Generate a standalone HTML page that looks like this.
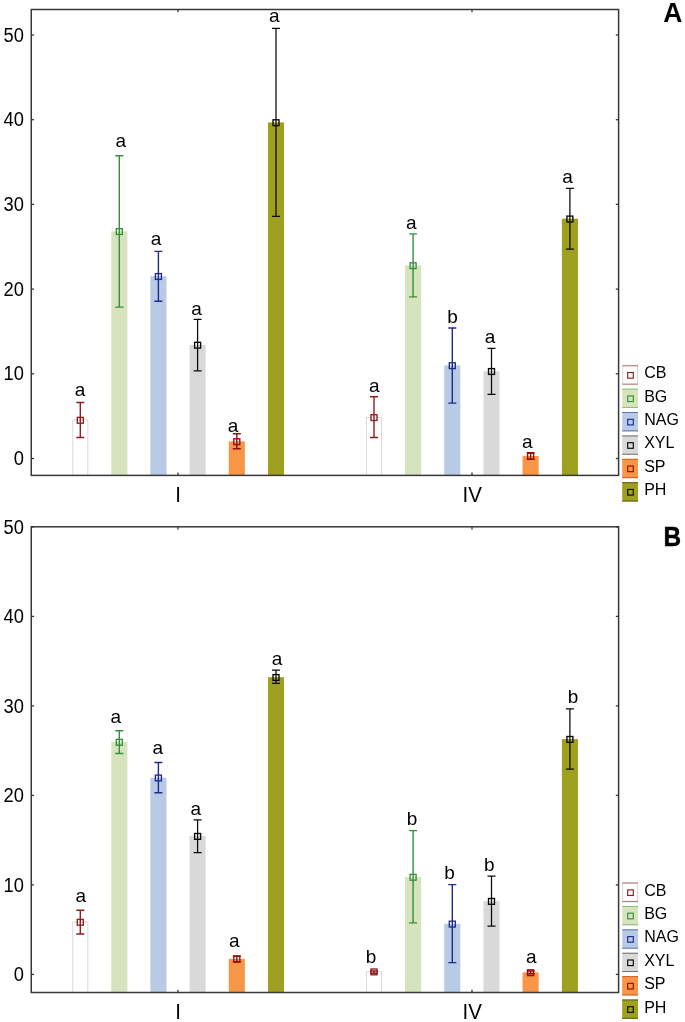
<!DOCTYPE html>
<html><head><meta charset="utf-8"><title>chart</title>
<style>
html,body{margin:0;padding:0;background:#fff;width:685px;height:1022px;overflow:hidden}
svg{display:block;filter:blur(0.3px)}
text{font-family:"Liberation Sans",sans-serif;fill:#000}
</style></head><body>
<svg width="685" height="1022" viewBox="0 0 685 1022">
<rect x="72.75" y="420.00" width="15.10" height="55.40" fill="#fff" stroke="#e0d6d6" stroke-width="1"/>
<rect x="111.25" y="231.30" width="16.10" height="244.10" fill="#d7e3bd"/>
<rect x="150.35" y="276.20" width="16.10" height="199.20" fill="#b7cbe5"/>
<rect x="189.55" y="344.90" width="16.10" height="130.50" fill="#d9d9d9"/>
<rect x="228.75" y="441.40" width="16.10" height="34.00" fill="#f79646"/>
<rect x="267.95" y="122.40" width="16.10" height="353.00" fill="#9f9f20"/>
<rect x="366.45" y="417.30" width="15.10" height="58.10" fill="#fff" stroke="#e0d6d6" stroke-width="1"/>
<rect x="405.05" y="265.40" width="16.10" height="210.00" fill="#d7e3bd"/>
<rect x="444.25" y="365.40" width="16.10" height="110.00" fill="#b7cbe5"/>
<rect x="483.45" y="371.20" width="16.10" height="104.20" fill="#d9d9d9"/>
<rect x="522.55" y="455.90" width="16.10" height="19.50" fill="#f79646"/>
<rect x="561.85" y="218.70" width="16.10" height="256.70" fill="#9f9f20"/>
<rect x="31.25" y="9.5" width="587.35" height="465.90" fill="none" stroke="#383838" stroke-width="1.5"/>
<line x1="31.25" y1="458.50" x2="34.05" y2="458.50" stroke="#383838" stroke-width="1.3"/>
<line x1="618.6" y1="458.50" x2="615.80" y2="458.50" stroke="#383838" stroke-width="1.3"/>
<text transform="translate(24.0 465.10) scale(0.965 1.07)" font-size="19" text-anchor="end">0</text>
<line x1="31.25" y1="373.80" x2="34.05" y2="373.80" stroke="#383838" stroke-width="1.3"/>
<line x1="618.6" y1="373.80" x2="615.80" y2="373.80" stroke="#383838" stroke-width="1.3"/>
<text transform="translate(24.0 380.40) scale(0.965 1.07)" font-size="19" text-anchor="end">10</text>
<line x1="31.25" y1="289.10" x2="34.05" y2="289.10" stroke="#383838" stroke-width="1.3"/>
<line x1="618.6" y1="289.10" x2="615.80" y2="289.10" stroke="#383838" stroke-width="1.3"/>
<text transform="translate(24.0 295.70) scale(0.965 1.07)" font-size="19" text-anchor="end">20</text>
<line x1="31.25" y1="204.40" x2="34.05" y2="204.40" stroke="#383838" stroke-width="1.3"/>
<line x1="618.6" y1="204.40" x2="615.80" y2="204.40" stroke="#383838" stroke-width="1.3"/>
<text transform="translate(24.0 211.00) scale(0.965 1.07)" font-size="19" text-anchor="end">30</text>
<line x1="31.25" y1="119.70" x2="34.05" y2="119.70" stroke="#383838" stroke-width="1.3"/>
<line x1="618.6" y1="119.70" x2="615.80" y2="119.70" stroke="#383838" stroke-width="1.3"/>
<text transform="translate(24.0 126.30) scale(0.965 1.07)" font-size="19" text-anchor="end">40</text>
<line x1="31.25" y1="35.00" x2="34.05" y2="35.00" stroke="#383838" stroke-width="1.3"/>
<line x1="618.6" y1="35.00" x2="615.80" y2="35.00" stroke="#383838" stroke-width="1.3"/>
<text transform="translate(24.0 41.60) scale(0.965 1.07)" font-size="19" text-anchor="end">50</text>
<line x1="178.0" y1="475.4" x2="178.0" y2="472.60" stroke="#383838" stroke-width="1.3"/>
<line x1="178.0" y1="9.5" x2="178.0" y2="12.30" stroke="#383838" stroke-width="1.3"/>
<line x1="472.0" y1="475.4" x2="472.0" y2="472.60" stroke="#383838" stroke-width="1.3"/>
<line x1="472.0" y1="9.5" x2="472.0" y2="12.30" stroke="#383838" stroke-width="1.3"/>
<text transform="translate(178.1 501.70) scale(1 1.065)" font-size="20.5" text-anchor="middle">I</text>
<text transform="translate(472.2 501.70) scale(1 1.065)" font-size="20.5" text-anchor="middle">IV</text>
<path d="M80.30 402.50V437.50M76.30 402.50H84.30M76.30 437.50H84.30" stroke="#8f1d1d" stroke-width="1.4" fill="none"/>
<rect x="77.30" y="417.40" width="6.0" height="5.8" fill="none" stroke="#8f1d1d" stroke-width="1.35"/>
<text x="80.00" y="396.40" font-size="19" text-anchor="middle">a</text>
<path d="M119.30 155.70V307.10M115.30 155.70H123.30M115.30 307.10H123.30" stroke="#34903a" stroke-width="1.4" fill="none"/>
<rect x="116.30" y="228.70" width="6.0" height="5.8" fill="none" stroke="#34903a" stroke-width="1.35"/>
<text x="120.80" y="146.50" font-size="19" text-anchor="middle">a</text>
<path d="M158.40 251.40V301.20M154.40 251.40H162.40M154.40 301.20H162.40" stroke="#1f2a8f" stroke-width="1.4" fill="none"/>
<rect x="155.40" y="273.60" width="6.0" height="5.8" fill="none" stroke="#1f2a8f" stroke-width="1.35"/>
<text x="156.05" y="244.70" font-size="19" text-anchor="middle">a</text>
<path d="M197.60 319.40V370.80M193.60 319.40H201.60M193.60 370.80H201.60" stroke="#0a0a0a" stroke-width="1.25" fill="none"/>
<rect x="194.60" y="342.30" width="6.0" height="5.8" fill="none" stroke="#0a0a0a" stroke-width="1.35"/>
<text x="196.60" y="314.90" font-size="19" text-anchor="middle">a</text>
<path d="M236.80 433.80V448.80M232.80 433.80H240.80M232.80 448.80H240.80" stroke="#8f1010" stroke-width="1.4" fill="none"/>
<rect x="233.80" y="438.80" width="6.0" height="5.8" fill="none" stroke="#8f1010" stroke-width="1.35"/>
<text x="233.10" y="431.70" font-size="19" text-anchor="middle">a</text>
<path d="M276.00 28.40V216.40M272.00 28.40H280.00M272.00 216.40H280.00" stroke="#0a0a0a" stroke-width="1.25" fill="none"/>
<rect x="273.00" y="119.80" width="6.0" height="5.8" fill="none" stroke="#0a0a0a" stroke-width="1.35"/>
<text x="274.30" y="21.90" font-size="19" text-anchor="middle">a</text>
<path d="M374.00 396.70V437.50M370.00 396.70H378.00M370.00 437.50H378.00" stroke="#8f1d1d" stroke-width="1.4" fill="none"/>
<rect x="371.00" y="414.70" width="6.0" height="5.8" fill="none" stroke="#8f1d1d" stroke-width="1.35"/>
<text x="374.30" y="391.60" font-size="19" text-anchor="middle">a</text>
<path d="M413.10 233.90V296.90M409.10 233.90H417.10M409.10 296.90H417.10" stroke="#34903a" stroke-width="1.4" fill="none"/>
<rect x="410.10" y="262.80" width="6.0" height="5.8" fill="none" stroke="#34903a" stroke-width="1.35"/>
<text x="411.30" y="228.50" font-size="19" text-anchor="middle">a</text>
<path d="M452.30 328.00V403.10M448.30 328.00H456.30M448.30 403.10H456.30" stroke="#1f2a8f" stroke-width="1.4" fill="none"/>
<rect x="449.30" y="362.80" width="6.0" height="5.8" fill="none" stroke="#1f2a8f" stroke-width="1.35"/>
<text x="452.45" y="322.80" font-size="19" text-anchor="middle">b</text>
<path d="M491.50 348.30V394.40M487.50 348.30H495.50M487.50 394.40H495.50" stroke="#0a0a0a" stroke-width="1.25" fill="none"/>
<rect x="488.50" y="368.60" width="6.0" height="5.8" fill="none" stroke="#0a0a0a" stroke-width="1.35"/>
<text x="490.15" y="343.40" font-size="19" text-anchor="middle">a</text>
<path d="M530.60 452.60V459.40M526.60 452.60H534.60M526.60 459.40H534.60" stroke="#8f1010" stroke-width="1.4" fill="none"/>
<rect x="527.60" y="453.30" width="6.0" height="5.8" fill="none" stroke="#8f1010" stroke-width="1.35"/>
<text x="527.30" y="447.60" font-size="19" text-anchor="middle">a</text>
<path d="M569.90 188.40V249.20M565.90 188.40H573.90M565.90 249.20H573.90" stroke="#0a0a0a" stroke-width="1.25" fill="none"/>
<rect x="566.90" y="216.10" width="6.0" height="5.8" fill="none" stroke="#0a0a0a" stroke-width="1.35"/>
<text x="567.50" y="182.70" font-size="19" text-anchor="middle">a</text>
<rect x="622.2" y="365.30" width="15.8" height="19.3" fill="#ffffff"/>
<rect x="622.7" y="365.30" width="14.8" height="19.3" fill="none" stroke="#dcd4d4" stroke-width="1"/>
<path d="M622.2 365.80H638M622.2 384.10H638" stroke="#b87474" stroke-width="1"/>
<rect x="627.70" y="372.55" width="5.6" height="5.6" fill="none" stroke="#8f1d1d" stroke-width="1.15"/>
<text x="644.2" y="378.30" font-size="16">CB</text>
<rect x="622.2" y="388.68" width="15.8" height="19.3" fill="#d7e3bd"/>
<path d="M622.2 389.18H638M622.2 407.48H638" stroke="#8cbd7c" stroke-width="1"/>
<rect x="627.70" y="395.93" width="5.6" height="5.6" fill="none" stroke="#34903a" stroke-width="1.15"/>
<text x="644.2" y="401.68" font-size="16">BG</text>
<rect x="622.2" y="412.06" width="15.8" height="19.3" fill="#b7cbe5"/>
<path d="M622.2 412.56H638M622.2 430.86H638" stroke="#6373b0" stroke-width="1"/>
<rect x="627.70" y="419.31" width="5.6" height="5.6" fill="none" stroke="#1f2a8f" stroke-width="1.15"/>
<text x="644.2" y="425.06" font-size="16">NAG</text>
<rect x="622.2" y="435.44" width="15.8" height="19.3" fill="#d9d9d9"/>
<path d="M622.2 435.94H638M622.2 454.24H638" stroke="#707070" stroke-width="1"/>
<rect x="627.70" y="442.69" width="5.6" height="5.6" fill="none" stroke="#0a0a0a" stroke-width="1.15"/>
<text x="644.2" y="448.44" font-size="16">XYL</text>
<rect x="622.2" y="458.82" width="15.8" height="19.3" fill="#f79646"/>
<path d="M622.2 459.32H638M622.2 477.62H638" stroke="#d0602a" stroke-width="1"/>
<rect x="627.70" y="466.07" width="5.6" height="5.6" fill="none" stroke="#8f1010" stroke-width="1.15"/>
<text x="644.2" y="471.82" font-size="16">SP</text>
<rect x="622.2" y="482.20" width="15.8" height="19.3" fill="#9f9f20"/>
<path d="M622.2 482.70H638M622.2 501.00H638" stroke="#5e5e14" stroke-width="1"/>
<rect x="627.70" y="489.45" width="5.6" height="5.6" fill="none" stroke="#0a0a0a" stroke-width="1.15"/>
<text x="644.2" y="495.20" font-size="16">PH</text>
<text transform="translate(663.2 22.2) scale(1 1.055)" font-size="26.5" font-weight="bold">A</text>
<rect x="72.75" y="922.00" width="15.10" height="70.50" fill="#fff" stroke="#e0d6d6" stroke-width="1"/>
<rect x="111.25" y="742.00" width="16.10" height="250.50" fill="#d7e3bd"/>
<rect x="150.35" y="777.70" width="16.10" height="214.80" fill="#b7cbe5"/>
<rect x="189.55" y="836.10" width="16.10" height="156.40" fill="#d9d9d9"/>
<rect x="228.75" y="958.90" width="16.10" height="33.60" fill="#f79646"/>
<rect x="267.95" y="677.20" width="16.10" height="315.30" fill="#9f9f20"/>
<rect x="366.45" y="971.60" width="15.10" height="20.90" fill="#fff" stroke="#e0d6d6" stroke-width="1"/>
<rect x="405.05" y="877.00" width="16.10" height="115.50" fill="#d7e3bd"/>
<rect x="444.25" y="923.80" width="16.10" height="68.70" fill="#b7cbe5"/>
<rect x="483.45" y="901.10" width="16.10" height="91.40" fill="#d9d9d9"/>
<rect x="522.55" y="972.40" width="16.10" height="20.10" fill="#f79646"/>
<rect x="561.85" y="739.10" width="16.10" height="253.40" fill="#9f9f20"/>
<rect x="31.25" y="526.8" width="587.35" height="465.70" fill="none" stroke="#383838" stroke-width="1.5"/>
<line x1="31.25" y1="974.40" x2="34.05" y2="974.40" stroke="#383838" stroke-width="1.3"/>
<line x1="618.6" y1="974.40" x2="615.80" y2="974.40" stroke="#383838" stroke-width="1.3"/>
<text transform="translate(24.0 981.00) scale(0.965 1.07)" font-size="19" text-anchor="end">0</text>
<line x1="31.25" y1="884.90" x2="34.05" y2="884.90" stroke="#383838" stroke-width="1.3"/>
<line x1="618.6" y1="884.90" x2="615.80" y2="884.90" stroke="#383838" stroke-width="1.3"/>
<text transform="translate(24.0 891.50) scale(0.965 1.07)" font-size="19" text-anchor="end">10</text>
<line x1="31.25" y1="795.40" x2="34.05" y2="795.40" stroke="#383838" stroke-width="1.3"/>
<line x1="618.6" y1="795.40" x2="615.80" y2="795.40" stroke="#383838" stroke-width="1.3"/>
<text transform="translate(24.0 802.00) scale(0.965 1.07)" font-size="19" text-anchor="end">20</text>
<line x1="31.25" y1="705.90" x2="34.05" y2="705.90" stroke="#383838" stroke-width="1.3"/>
<line x1="618.6" y1="705.90" x2="615.80" y2="705.90" stroke="#383838" stroke-width="1.3"/>
<text transform="translate(24.0 712.50) scale(0.965 1.07)" font-size="19" text-anchor="end">30</text>
<line x1="31.25" y1="616.40" x2="34.05" y2="616.40" stroke="#383838" stroke-width="1.3"/>
<line x1="618.6" y1="616.40" x2="615.80" y2="616.40" stroke="#383838" stroke-width="1.3"/>
<text transform="translate(24.0 623.00) scale(0.965 1.07)" font-size="19" text-anchor="end">40</text>
<line x1="31.25" y1="526.90" x2="34.05" y2="526.90" stroke="#383838" stroke-width="1.3"/>
<line x1="618.6" y1="526.90" x2="615.80" y2="526.90" stroke="#383838" stroke-width="1.3"/>
<text transform="translate(24.0 533.50) scale(0.965 1.07)" font-size="19" text-anchor="end">50</text>
<line x1="178.0" y1="992.5" x2="178.0" y2="989.70" stroke="#383838" stroke-width="1.3"/>
<line x1="178.0" y1="526.8" x2="178.0" y2="529.60" stroke="#383838" stroke-width="1.3"/>
<line x1="472.0" y1="992.5" x2="472.0" y2="989.70" stroke="#383838" stroke-width="1.3"/>
<line x1="472.0" y1="526.8" x2="472.0" y2="529.60" stroke="#383838" stroke-width="1.3"/>
<text transform="translate(178.1 1019.00) scale(1 1.065)" font-size="20.5" text-anchor="middle">I</text>
<text transform="translate(472.2 1019.00) scale(1 1.065)" font-size="20.5" text-anchor="middle">IV</text>
<path d="M80.30 910.30V934.00M76.30 910.30H84.30M76.30 934.00H84.30" stroke="#8f1d1d" stroke-width="1.4" fill="none"/>
<rect x="77.30" y="919.40" width="6.0" height="5.8" fill="none" stroke="#8f1d1d" stroke-width="1.35"/>
<text x="80.70" y="901.80" font-size="19" text-anchor="middle">a</text>
<path d="M119.30 730.70V753.50M115.30 730.70H123.30M115.30 753.50H123.30" stroke="#34903a" stroke-width="1.4" fill="none"/>
<rect x="116.30" y="739.40" width="6.0" height="5.8" fill="none" stroke="#34903a" stroke-width="1.35"/>
<text x="115.70" y="722.90" font-size="19" text-anchor="middle">a</text>
<path d="M158.40 762.50V792.80M154.40 762.50H162.40M154.40 792.80H162.40" stroke="#1f2a8f" stroke-width="1.4" fill="none"/>
<rect x="155.40" y="775.10" width="6.0" height="5.8" fill="none" stroke="#1f2a8f" stroke-width="1.35"/>
<text x="157.70" y="753.90" font-size="19" text-anchor="middle">a</text>
<path d="M197.60 819.90V852.60M193.60 819.90H201.60M193.60 852.60H201.60" stroke="#0a0a0a" stroke-width="1.25" fill="none"/>
<rect x="194.60" y="833.50" width="6.0" height="5.8" fill="none" stroke="#0a0a0a" stroke-width="1.35"/>
<text x="195.80" y="815.30" font-size="19" text-anchor="middle">a</text>
<path d="M236.80 956.00V961.80M232.80 956.00H240.80M232.80 961.80H240.80" stroke="#8f1010" stroke-width="1.4" fill="none"/>
<rect x="233.80" y="956.30" width="6.0" height="5.8" fill="none" stroke="#8f1010" stroke-width="1.35"/>
<text x="234.40" y="946.80" font-size="19" text-anchor="middle">a</text>
<path d="M276.00 670.10V683.40M272.00 670.10H280.00M272.00 683.40H280.00" stroke="#0a0a0a" stroke-width="1.25" fill="none"/>
<rect x="273.00" y="674.60" width="6.0" height="5.8" fill="none" stroke="#0a0a0a" stroke-width="1.35"/>
<text x="277.10" y="664.50" font-size="19" text-anchor="middle">a</text>
<path d="M374.00 971.00V973.20M370.00 971.00H378.00M370.00 973.20H378.00" stroke="#8f1d1d" stroke-width="1.4" fill="none"/>
<rect x="371.00" y="969.00" width="6.0" height="5.8" fill="none" stroke="#8f1d1d" stroke-width="1.35"/>
<text x="370.95" y="962.90" font-size="19" text-anchor="middle">b</text>
<path d="M413.10 830.60V922.90M409.10 830.60H417.10M409.10 922.90H417.10" stroke="#34903a" stroke-width="1.4" fill="none"/>
<rect x="410.10" y="874.40" width="6.0" height="5.8" fill="none" stroke="#34903a" stroke-width="1.35"/>
<text x="411.95" y="825.30" font-size="19" text-anchor="middle">b</text>
<path d="M452.30 884.60V962.60M448.30 884.60H456.30M448.30 962.60H456.30" stroke="#1f2a8f" stroke-width="1.4" fill="none"/>
<rect x="449.30" y="921.20" width="6.0" height="5.8" fill="none" stroke="#1f2a8f" stroke-width="1.35"/>
<text x="449.60" y="878.60" font-size="19" text-anchor="middle">b</text>
<path d="M491.50 876.00V926.10M487.50 876.00H495.50M487.50 926.10H495.50" stroke="#0a0a0a" stroke-width="1.25" fill="none"/>
<rect x="488.50" y="898.50" width="6.0" height="5.8" fill="none" stroke="#0a0a0a" stroke-width="1.35"/>
<text x="489.30" y="870.60" font-size="19" text-anchor="middle">b</text>
<path d="M530.60 971.00V973.70M526.60 971.00H534.60M526.60 973.70H534.60" stroke="#8f1010" stroke-width="1.4" fill="none"/>
<rect x="527.60" y="969.80" width="6.0" height="5.8" fill="none" stroke="#8f1010" stroke-width="1.35"/>
<text x="531.30" y="962.80" font-size="19" text-anchor="middle">a</text>
<path d="M569.90 708.80V769.20M565.90 708.80H573.90M565.90 769.20H573.90" stroke="#0a0a0a" stroke-width="1.25" fill="none"/>
<rect x="566.90" y="736.50" width="6.0" height="5.8" fill="none" stroke="#0a0a0a" stroke-width="1.35"/>
<text x="573.00" y="702.60" font-size="19" text-anchor="middle">b</text>
<rect x="622.2" y="882.60" width="15.8" height="19.3" fill="#ffffff"/>
<rect x="622.7" y="882.60" width="14.8" height="19.3" fill="none" stroke="#dcd4d4" stroke-width="1"/>
<path d="M622.2 883.10H638M622.2 901.40H638" stroke="#b87474" stroke-width="1"/>
<rect x="627.70" y="889.85" width="5.6" height="5.6" fill="none" stroke="#8f1d1d" stroke-width="1.15"/>
<text x="644.2" y="895.60" font-size="16">CB</text>
<rect x="622.2" y="905.98" width="15.8" height="19.3" fill="#d7e3bd"/>
<path d="M622.2 906.48H638M622.2 924.78H638" stroke="#8cbd7c" stroke-width="1"/>
<rect x="627.70" y="913.23" width="5.6" height="5.6" fill="none" stroke="#34903a" stroke-width="1.15"/>
<text x="644.2" y="918.98" font-size="16">BG</text>
<rect x="622.2" y="929.36" width="15.8" height="19.3" fill="#b7cbe5"/>
<path d="M622.2 929.86H638M622.2 948.16H638" stroke="#6373b0" stroke-width="1"/>
<rect x="627.70" y="936.61" width="5.6" height="5.6" fill="none" stroke="#1f2a8f" stroke-width="1.15"/>
<text x="644.2" y="942.36" font-size="16">NAG</text>
<rect x="622.2" y="952.74" width="15.8" height="19.3" fill="#d9d9d9"/>
<path d="M622.2 953.24H638M622.2 971.54H638" stroke="#707070" stroke-width="1"/>
<rect x="627.70" y="959.99" width="5.6" height="5.6" fill="none" stroke="#0a0a0a" stroke-width="1.15"/>
<text x="644.2" y="965.74" font-size="16">XYL</text>
<rect x="622.2" y="976.12" width="15.8" height="19.3" fill="#f79646"/>
<path d="M622.2 976.62H638M622.2 994.92H638" stroke="#d0602a" stroke-width="1"/>
<rect x="627.70" y="983.37" width="5.6" height="5.6" fill="none" stroke="#8f1010" stroke-width="1.15"/>
<text x="644.2" y="989.12" font-size="16">SP</text>
<rect x="622.2" y="999.50" width="15.8" height="19.3" fill="#9f9f20"/>
<path d="M622.2 1000.00H638M622.2 1018.30H638" stroke="#5e5e14" stroke-width="1"/>
<rect x="627.70" y="1006.75" width="5.6" height="5.6" fill="none" stroke="#0a0a0a" stroke-width="1.15"/>
<text x="644.2" y="1012.50" font-size="16">PH</text>
<text transform="translate(663.4 546.4) scale(0.92 1.075)" font-size="26.5" font-weight="bold" stroke="#000" stroke-width="0.45">B</text>
</svg>
</body></html>
